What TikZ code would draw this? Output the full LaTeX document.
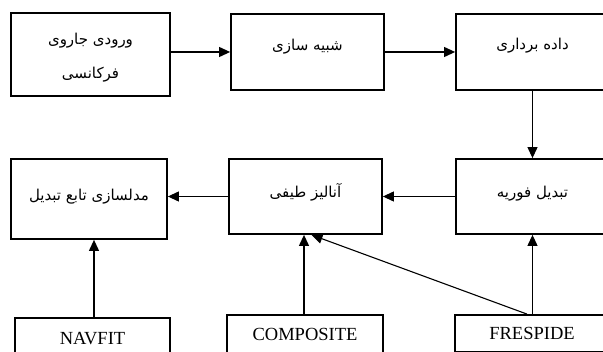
\documentclass[tikz,border=0pt]{standalone}
\usepackage{fontspec}
\setmainfont{Liberation Serif}
\newfontfamily\arabicfont[Script=Arabic]{DejaVu Sans}
\TeXXeTstate=1
\usetikzlibrary{arrows.meta}
\begin{document}
\begin{tikzpicture}[x=1pt,y=-1pt,
  box/.style={draw=black, line width=1.8pt, rectangle, inner sep=0pt},
  lbl/.style={font=\arabicfont\fontsize{15}{34}\selectfont, align=center, inner sep=0pt},
  latin/.style={font=\fontsize{18.5}{20}\selectfont},
  arr/.style={line width=1.1pt, -{Triangle[length=11pt,width=10pt]}}]
\useasboundingbox (0,0) rectangle (603,352);
\clip (0,0) rectangle (603,352);
% top row
\node[box, minimum width=159pt, minimum height=83pt,
  label={[lbl, name=t1, yshift=-3pt]center:{\beginR ورودی جاروی\endR\\\beginR فرکانسی\endR}}] (b1) at (90.5,54.5) {};
\node[box, minimum width=153pt, minimum height=76pt,
  label={[lbl, name=t2, yshift=5pt]center:{\beginR شبیه سازی\endR}}] (b2) at (307.5,52) {};
\node[box, minimum width=153pt, minimum height=76pt,
  label={[lbl, name=t3, yshift=6pt]center:{\beginR داده برداری\endR}}] (b3) at (532.5,52) {};
% middle row
\node[box, minimum width=156pt, minimum height=80pt,
  label={[lbl, name=t4, yshift=2pt]center:{\beginR مدلسازی تابع تبدیل\endR}}] (b4) at (89,199) {};
\node[box, minimum width=153pt, minimum height=75pt,
  label={[lbl, name=t5, yshift=4pt]center:{\beginR آنالیز طیفی\endR}}] (b5) at (305.5,196.5) {};
\node[box, minimum width=153pt, minimum height=75pt,
  label={[lbl, name=t6, yshift=3pt]center:{\beginR تبدیل فوریه\endR}}] (b6) at (532.5,196.5) {};
% bottom row
\node[box, latin, minimum width=155pt, minimum height=41pt] (n1) at (92.5,338.5) {NAVFIT};
\node[box, latin, minimum width=156pt, minimum height=39pt] (n2) at (305,334.5) {COMPOSITE};
\node[box, latin, minimum width=154pt, minimum height=37pt] (n3) at (532,333.5) {FRESPIDE};
% connectors
\draw[arr] (b1.east |- b2.west) -- (b2.west);
\draw[arr] (b2.east) -- (b3.west);
\draw[arr] (b3.south) -- (b6.north);
\draw[arr] (b6.west) -- (b5.east);
\draw[arr] (b5.west) -- (b5.west -| b4.east);
\draw[arr] ([xshift=1.5pt]n1.north) -- ([xshift=1.5pt]n1.north |- b4.south);
\draw[arr] ([xshift=-1pt]n2.north) -- ([xshift=-1pt]n2.north |- b5.south);
\draw[arr] ([xshift=0.5pt]n3.north) -- ([xshift=0.5pt]n3.north |- b6.south);
\draw[arr] ([xshift=-5pt]n3.north) -- ([xshift=6pt]b5.south);
\end{tikzpicture}
\end{document}
